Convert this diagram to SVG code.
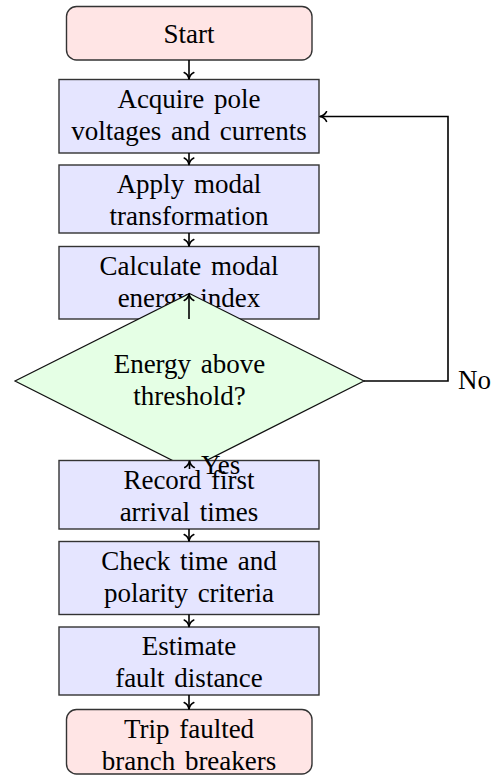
<svg xmlns="http://www.w3.org/2000/svg" width="493" height="775" viewBox="0 0 493 775">
<defs>
<style>
text{font-family:"Liberation Serif","Times New Roman",serif;font-size:27px;fill:#000;word-spacing:3px}
.c{text-anchor:middle}
.term{fill:#ffe5e5;stroke:#333;stroke-width:1.4}
.proc{fill:#e5e5ff;stroke:#333;stroke-width:1.4}
.dec{fill:#e5ffe5;stroke:#111;stroke-width:1.2}
.edge{fill:none;stroke:#000;stroke-width:1.6}
</style>
<marker id="arr" viewBox="-8 -6 9 12" refX="0" refY="0" markerWidth="9" markerHeight="12" markerUnits="userSpaceOnUse" orient="auto">
<path d="M-6.5,-4.8 C-5,-1.8 -2,-0.4 0,0 C-2,0.4 -5,1.8 -6.5,4.8" fill="none" stroke="#000" stroke-width="1.6" stroke-linecap="round" stroke-linejoin="round"/>
</marker>
</defs>
<g id="start">
<rect class="term" x="66.5" y="6.5" width="245.5" height="53.5" rx="10"/>
<text class="c" x="189" y="43">Start</text>
</g>
<g id="acquire">
<rect class="proc" x="59" y="79.5" width="260" height="73.5"/>
<text class="c" x="189" y="107.5">Acquire pole</text>
<text class="c" x="189" y="140">voltages and currents</text>
</g>
<g id="apply">
<rect class="proc" x="59" y="165" width="260" height="68"/>
<text class="c" x="189" y="193">Apply modal</text>
<text class="c" x="189" y="225">transformation</text>
</g>
<g id="calculate">
<rect class="proc" x="59" y="246.5" width="260" height="72.5"/>
<text class="c" x="189" y="274.5">Calculate modal</text>
<text class="c" x="189" y="307">energy index</text>
</g>
<g id="decision">
<polygon class="dec" points="189.5,293.5 364,381 189.5,469 15,381"/>
<text class="c" x="189.5" y="373">Energy above</text>
<text class="c" x="189.5" y="405">threshold?</text>
</g>
<g id="record">
<rect class="proc" x="59" y="460.5" width="260" height="68.5"/>
<text class="c" x="189" y="488.5">Record first</text>
<text class="c" x="189" y="520.5">arrival times</text>
</g>
<g id="check">
<rect class="proc" x="59" y="541.5" width="260" height="73"/>
<text class="c" x="189" y="569.5">Check time and</text>
<text class="c" x="189" y="602">polarity criteria</text>
</g>
<g id="estimate">
<rect class="proc" x="59" y="627" width="260" height="68"/>
<text class="c" x="189" y="655">Estimate</text>
<text class="c" x="189" y="687">fault distance</text>
</g>
<g id="trip">
<rect class="term" x="66.5" y="709.5" width="245.5" height="64.5" rx="10"/>
<text class="c" x="189" y="737.5">Trip faulted</text>
<text class="c" x="189" y="769.5">branch breakers</text>
</g>
<g id="connectors">
<path class="edge" d="M189,60 V79" marker-end="url(#arr)"/>
<path class="edge" d="M189,153 V164.5" marker-end="url(#arr)"/>
<path class="edge" d="M189,233 V246" marker-end="url(#arr)"/>
<path class="edge" d="M189,319 V294" marker-end="url(#arr)"/>
<path class="edge" d="M189.5,469 V461" marker-end="url(#arr)"/>
<text x="201" y="473.5">Yes</text>
<path class="edge" d="M364,381 H448 V116.5 H320" marker-end="url(#arr)"/>
<path class="edge" d="M189,529 V541" marker-end="url(#arr)"/>
<path class="edge" d="M189,614.5 V626.5" marker-end="url(#arr)"/>
<path class="edge" d="M189,695 V709" marker-end="url(#arr)"/>
<text x="458" y="389">No</text>
</g>
</svg>
